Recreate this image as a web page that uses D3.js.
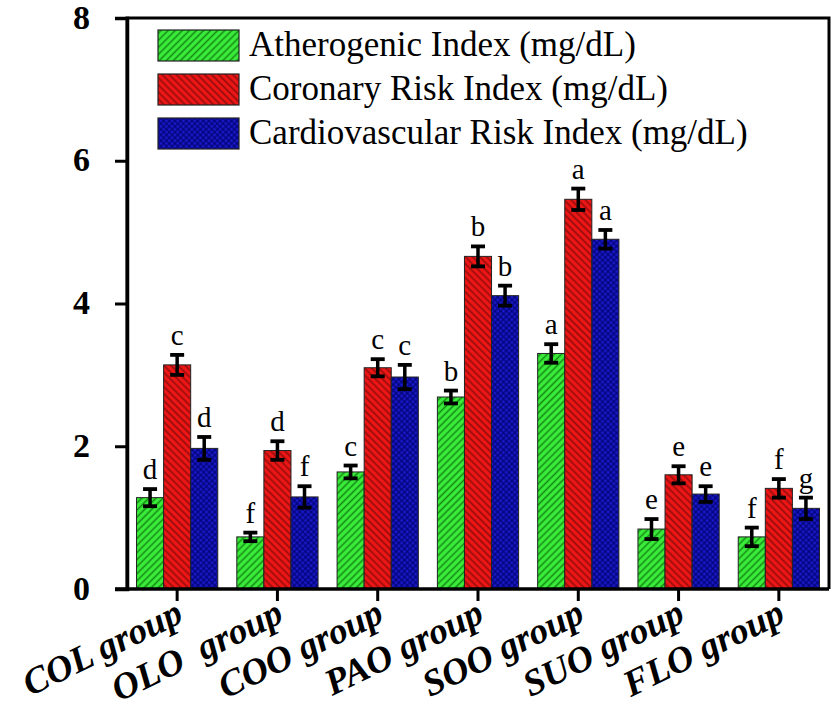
<!DOCTYPE html>
<html>
<head>
<meta charset="utf-8">
<script src="https://cdn.jsdelivr.net/npm/d3@7.9.0/dist/d3.min.js"></script>
<style>
  html, body { margin: 0; padding: 0; background: #fff; }
  svg { display: block; }
</style>
</head>
<body>
<svg id="chart" width="839" height="717"></svg>
<script>
// data
const groups = ["COL group", "OLO  group", "COO group", "PAO group", "SOO group", "SUO group", "FLO group"];
const seriesNames = ["Atherogenic Index (mg/dL)", "Coronary Risk Index (mg/dL)", "Cardiovascular Risk Index (mg/dL)"];

const atherogenic = [1.28, 0.73, 1.64, 2.69, 3.30, 0.84, 0.73];
const coronary = [3.14, 1.94, 3.10, 4.66, 5.46, 1.60, 1.41];
const cardiovascular = [1.97, 1.29, 2.97, 4.11, 4.90, 1.33, 1.13];

const atherogenicErr = [0.12, 0.06, 0.09, 0.09, 0.13, 0.14, 0.13];
const coronaryErr = [0.14, 0.13, 0.12, 0.14, 0.15, 0.12, 0.13];
const cardiovascularErr = [0.16, 0.15, 0.17, 0.14, 0.13, 0.11, 0.15];

const atherogenicLetters = ["d", "f", "c", "b", "a", "e", "f"];
const coronaryLetters = ["c", "d", "c", "b", "a", "e", "f"];
const cardiovascularLetters = ["d", "f", "c", "b", "a", "e", "g"];

const yTicks = [0, 2, 4, 6, 8];

const series = [
  { name: seriesNames[0], values: atherogenic, err: atherogenicErr, letters: atherogenicLetters, fill: "url(#hGreen)" },
  { name: seriesNames[1], values: coronary, err: coronaryErr, letters: coronaryLetters, fill: "url(#hRed)" },
  { name: seriesNames[2], values: cardiovascular, err: cardiovascularErr, letters: cardiovascularLetters, fill: "url(#hBlue)" }
];

const svg = d3.select("#chart");
const plotLeft = 127, plotRight = 829, plotTop = 18, plotBottom = 589;
const serif = "'Liberation Serif', 'Times New Roman', serif";

// patterns
const defs = svg.append("defs");
function hatch(id, bg, line, angle, size, w) {
  const p = defs.append("pattern")
    .attr("id", id)
    .attr("patternUnits", "userSpaceOnUse")
    .attr("width", size).attr("height", size)
    .attr("patternTransform", `rotate(${angle})`);
  p.append("rect").attr("width", size).attr("height", size).attr("fill", bg);
  p.append("line").attr("x1", size / 2).attr("x2", size / 2).attr("y1", 0).attr("y2", size)
    .attr("stroke", line).attr("stroke-width", w);
  return p;
}
hatch("hGreen", "#3cee3c", "#138a13", 45, 5, 1.6);
hatch("hRed", "#f01616", "#8e0c0c", -45, 5, 1.6);
const pb = hatch("hBlue", "#1a1acc", "#00006e", 45, 4, 1.1);
pb.append("line").attr("x1", 0).attr("x2", 4).attr("y1", 2).attr("y2", 2)
  .attr("stroke", "#00006e").attr("stroke-width", 1.1);

const x0 = d3.scaleBand().domain(groups).range([plotLeft, plotRight]).paddingInner(0.19).paddingOuter(0.095);
const x1 = d3.scaleBand().domain(d3.range(series.length)).range([0, x0.bandwidth()]);
const y = d3.scaleLinear().domain([0, 8]).range([plotBottom, plotTop]);

// bars
const g = svg.append("g");
series.forEach((s, si) => {
  const sg = g.append("g");
  sg.selectAll("rect").data(groups).join("rect")
    .attr("x", (d) => x0(d) + x1(si))
    .attr("y", (d, i) => y(s.values[i]))
    .attr("width", x1.bandwidth())
    .attr("height", (d, i) => y(0) - y(s.values[i]))
    .attr("fill", s.fill)
    .attr("stroke", "#222")
    .attr("stroke-width", 1);

  // error bars
  const eb = sg.selectAll("g.err").data(groups).join("g").attr("class", "err")
    .attr("transform", (d) => `translate(${x0(d) + x1(si) + x1.bandwidth() / 2},0)`);
  eb.append("line")
    .attr("y1", (d, i) => y(s.values[i] + s.err[i]))
    .attr("y2", (d, i) => y(s.values[i] - s.err[i]))
    .attr("stroke", "#000").attr("stroke-width", 3.5);
  eb.append("line").attr("x1", -7).attr("x2", 7)
    .attr("y1", (d, i) => y(s.values[i] + s.err[i]))
    .attr("y2", (d, i) => y(s.values[i] + s.err[i]))
    .attr("stroke", "#000").attr("stroke-width", 3.8);
  eb.append("line").attr("x1", -7).attr("x2", 7)
    .attr("y1", (d, i) => y(s.values[i] - s.err[i]))
    .attr("y2", (d, i) => y(s.values[i] - s.err[i]))
    .attr("stroke", "#000").attr("stroke-width", 3.8);

  // significance letters
  sg.selectAll("text").data(groups).join("text")
    .attr("x", (d) => x0(d) + x1(si) + x1.bandwidth() / 2)
    .attr("y", (d, i) => y(s.values[i] + s.err[i]) - 10)
    .attr("text-anchor", "middle")
    .attr("font-family", serif)
    .attr("font-size", 29)
    .attr("fill", "#000")
    .text((d, i) => s.letters[i]);
});

// frame
svg.append("path")
  .attr("d", `M${plotLeft},${plotBottom}V${plotTop}H${plotRight}V${plotBottom}`)
  .attr("fill", "none").attr("stroke", "#000").attr("stroke-width", 3);

// y axis
const yAxis = svg.append("g")
  .attr("transform", `translate(${plotLeft},0)`)
  .call(d3.axisLeft(y).tickValues(yTicks).tickFormat(d3.format("d")).tickSize(12).tickPadding(25));
yAxis.select(".domain").attr("stroke-width", 3.5);
yAxis.selectAll(".tick line").attr("stroke-width", 3);
yAxis.selectAll(".tick text")
  .attr("font-family", serif)
  .attr("font-weight", "bold").attr("font-size", 34).attr("dy", "0.3em");

// x axis
const xAxis = svg.append("g")
  .attr("transform", `translate(0,${plotBottom})`)
  .call(d3.axisBottom(x0).tickSize(12).tickSizeOuter(0).tickFormat(() => ""));
xAxis.select(".domain").attr("stroke-width", 3.5).attr("d", `M${plotLeft - 12},0H${plotRight}`);
xAxis.selectAll(".tick line").attr("stroke-width", 3);
xAxis.selectAll(".tick").append("text")
  .attr("transform", "translate(8,32) rotate(-26)")
  .attr("text-anchor", "end")
  .attr("fill", "#000")
  .attr("font-family", serif)
  .attr("font-weight", "bold").attr("font-style", "italic").attr("font-size", 37)
  .style("white-space", "pre")
  .text((d) => d);

// legend
const legend = svg.append("g");
const li = legend.selectAll("g").data(series).join("g")
  .attr("transform", (d, i) => `translate(158,${30 + i * 44})`);
li.append("rect").attr("width", 81).attr("height", 31)
  .attr("fill", (d) => d.fill).attr("stroke", "#222").attr("stroke-width", 1.2);
li.append("text").attr("x", 91).attr("y", 26)
  .attr("font-family", serif)
  .attr("font-size", 35).attr("fill", "#000")
  .text((d) => d.name);
</script>
</body>
</html>
